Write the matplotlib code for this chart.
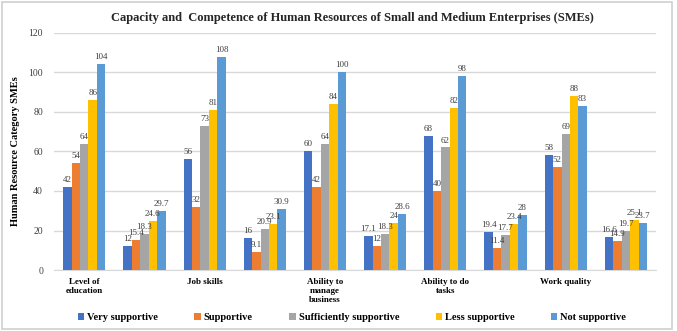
import matplotlib
matplotlib.use("Agg")
import matplotlib.pyplot as plt
import numpy as np
from matplotlib.patches import Rectangle

categories = ["Level of\neducation", "", "Job skills", "", "Ability to\nmanage\nbusiness", "",
              "Ability to do\ntasks", "", "Work quality", ""]
series_names = ["Very supportive", "Supportive", "Sufficiently supportive", "Less supportive", "Not supportive"]
very_supportive = [42, 12, 56, 16, 60, 17.1, 68, 19.4, 58, 16.6]
supportive = [54, 15.4, 32, 9.1, 42, 12, 40, 11.4, 52, 14.9]
sufficiently = [64, 18.3, 73, 20.9, 64, 18.3, 62, 17.7, 69, 19.7]
less_supportive = [86, 24.6, 81, 23.1, 84, 24, 82, 23.4, 88, 25.1]
not_supportive = [104, 29.7, 108, 30.9, 100, 28.6, 98, 28, 83, 23.7]
colors = ["#4472C4", "#ED7D31", "#A5A5A5", "#FFC000", "#5B9BD5"]

series = [very_supportive, supportive, sufficiently, less_supportive, not_supportive]

plt.rcParams['font.family'] = ['Liberation Serif', 'DejaVu Serif']

fig = plt.figure(figsize=(6.77, 3.31), dpi=100)
ax = fig.add_axes([0.080, 0.184, 0.889, 0.717])

x = np.arange(len(categories))
w = 0.14
for i, (vals, c, name) in enumerate(zip(series, colors, series_names)):
    pos = x + (i - 2) * w
    ax.bar(pos, vals, width=w, color=c, label=name, zorder=3)
    for p, v in zip(pos, vals):
        ax.text(p, v + 1.5, f"{v:g}", ha="center", va="bottom", fontsize=6.5, color="#404040",
                zorder=4)

ax.set_xlim(-0.5, len(categories) - 0.5)
ax.set_ylim(0, 120)
ax.set_yticks(range(0, 121, 20))
ax.tick_params(axis="y", length=0, labelsize=7, colors="#404040", pad=8)
ax.set_xticks(x)
ax.set_xticklabels(categories, fontsize=6.5, fontweight="bold", va="top", linespacing=1.1)
ax.tick_params(axis="x", length=0, pad=6)
ax.grid(axis="y", color="#d9d9d9", linewidth=1, zorder=0)
for s in ["top", "right", "left"]:
    ax.spines[s].set_visible(False)
ax.spines["bottom"].set_color("#d9d9d9")

ax.set_ylabel("Human Resource Category SMEs", fontsize=7.5, fontweight="bold", labelpad=6)
fig.text(0.52, 0.945, "Capacity and  Competence of Human Resources of Small and Medium Enterprises (SMEs)",
         ha="center", va="center", fontsize=9, fontweight="bold", color="#262626")

leg = fig.legend(loc="center", bbox_to_anchor=(0.52, 0.04), ncol=5, frameon=False,
                 prop={"size": 7.5, "weight": "bold"}, handlelength=0.6, handleheight=0.6,
                 handletextpad=0.3, columnspacing=3.5)

fig.patches.append(Rectangle((0.003, 0.006), 0.990, 0.988, transform=fig.transFigure,
                             fill=False, edgecolor="#cfcfcf", linewidth=1.2))

fig.savefig("out.png", dpi=100)
